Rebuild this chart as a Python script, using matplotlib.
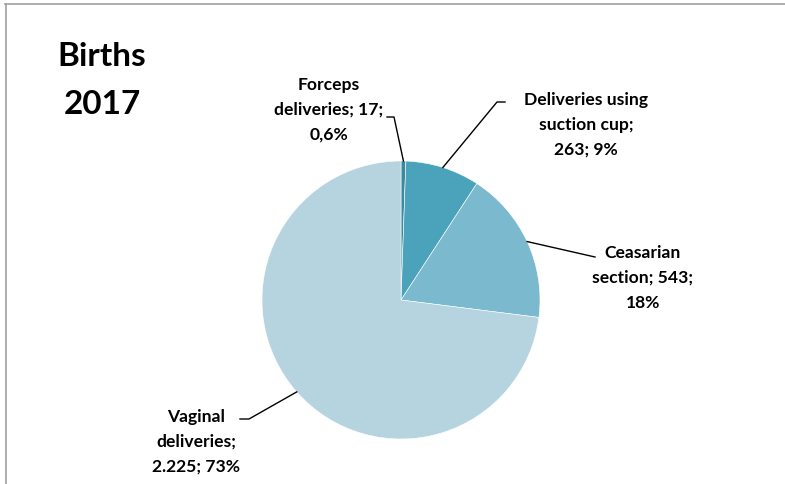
import matplotlib
matplotlib.use("Agg")
import numpy as np
import matplotlib.pyplot as plt
from matplotlib.lines import Line2D

plt.rcParams['font.family'] = ['Lato', 'DejaVu Sans']

# data
categories = ['Forceps\ndeliveries', 'Deliveries using\nsuction cup', 'Ceasarian\nsection', 'Vaginal\ndeliveries']
counts = [17, 263, 543, 2225]
value_text = ['17', '263', '543', '2.225']
pct_text = ['0,6%', '9%', '18%', '73%']
colors = ['#3A8A9E', '#4AA3BB', '#7BB9CF', '#B5D4DF']

W, H = 785, 485
cx, cy, r = 401, 301, 139   # pie centre / radius in pixels

fig = plt.figure(figsize=(W / 100, H / 100), dpi=100)
ax = fig.add_axes([(cx - r) / W, (H - cy - r) / H, 2 * r / W, 2 * r / H])
wedges, _ = ax.pie(counts, colors=colors, startangle=90, counterclock=False,
                   wedgeprops=dict(edgecolor='white', linewidth=0.4))
ax.set_xlim(-1, 1)
ax.set_ylim(-1, 1)
ax.axis('off')


def px(x, y):
    # pixel position -> data coords of the pie axes
    return (x - cx) / r, (cy - y) / r


# label texts: "category; value; percent"
labels = [
    'Forceps\ndeliveries; %s;\n%s' % (value_text[0], pct_text[0]),
    'Deliveries using\nsuction cup;\n%s; %s' % (value_text[1], pct_text[1]),
    'Ceasarian\nsection; %s;\n%s' % (value_text[2], pct_text[2]),
    'Vaginal\ndeliveries;\n%s; %s' % (value_text[3], pct_text[3]),
]
label_pos = [(329, 110), (586, 125), (643, 278), (196, 442)]
elbows = [[(394, 118), (387, 118)],
          [(497, 103), (505, 103)],
          [(595, 258)],
          [(249, 420), (240, 420)]]

for w, lab, pos, elb in zip(wedges, labels, label_pos, elbows):
    mid = np.deg2rad((w.theta1 + w.theta2) / 2)
    x0, y0 = np.cos(mid), np.sin(mid)
    xs = [x0] + [px(*p)[0] for p in elb]
    ys = [y0] + [px(*p)[1] for p in elb]
    ax.add_line(Line2D(xs, ys, color='black', lw=1.0, clip_on=False))
    tx, ty = px(*pos)
    ax.text(tx, ty, lab, ha='center', va='center', multialignment='center',
            fontsize=12.6, fontweight='bold', linespacing=1.66, clip_on=False)

# title
fig.text(102 / W, 1 - 57 / H, 'Births', ha='center', va='center',
         fontsize=24, fontweight='bold')
fig.text(102 / W, 1 - 104 / H, '2017', ha='center', va='center',
         fontsize=24, fontweight='bold')

# chart frame (top and left edges visible)
fig.add_artist(Line2D([5 / W, 1], [1 - 4.5 / H, 1 - 4.5 / H], color='#A0A0A0', lw=1.2))
fig.add_artist(Line2D([5.5 / W, 5.5 / W], [0, 1 - 4.5 / H], color='#A0A0A0', lw=1.2))

fig.savefig('out.png', dpi=100)
